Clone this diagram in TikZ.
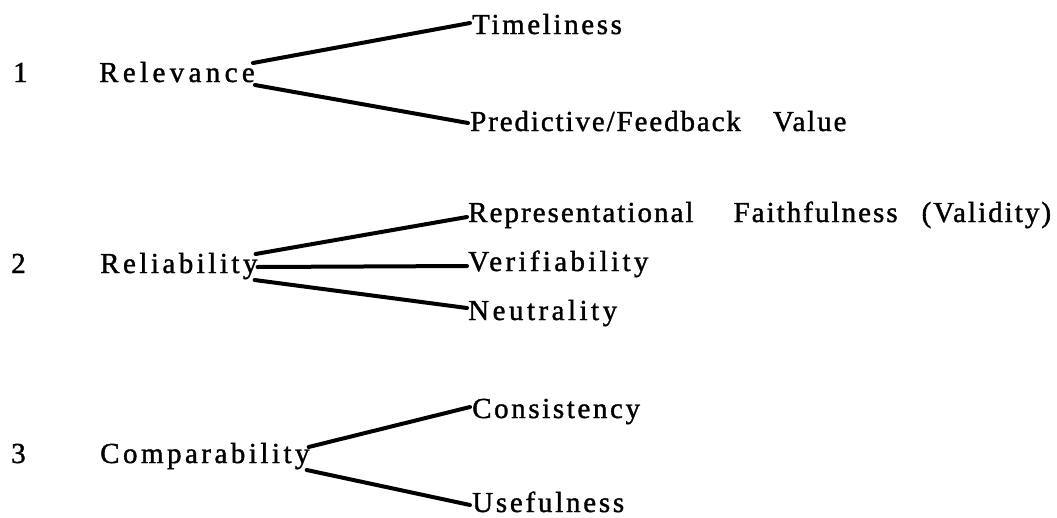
\documentclass[tikz,border=0pt]{standalone}
\usepackage{fontspec}
\setmainfont{Liberation Serif}
\begin{document}
\begin{tikzpicture}[x=1pt,y=1pt,
  lbl/.style={inner sep=0pt, anchor=base west,
    font=\fontsize{29}{34}\selectfont\addfontfeature{LetterSpace=#1,FakeBold=1.3}},
  lbl/.default=9,
  conn/.style={line width=4pt, line cap=round}]
\useasboundingbox (0,0) rectangle (1057,-517);
% row numbers
\node[lbl] (n1) at (13,-82) {1};
\node[lbl] (n2) at (11,-273) {2};
\node[lbl] (n3) at (11,-463) {3};
% main items
\node[lbl=15] (relev) at (99,-82) {Relevance};
\node[lbl=12] (reli) at (100,-273) {Reliability};
\node[lbl=12] (comp) at (100,-463) {Comparability};
% sub items
\node[lbl=9] (time) at (472,-34) {Timeliness};
\node[lbl=6.5] (pred) at (470,-131) {Predictive/Feedback\hspace{32pt}Value};
\node[lbl=7] (repr) at (468,-222) {Representational\hspace{40pt}Faithfulness\hspace{24pt}(Validity)};
\node[lbl=11.5] (verif) at (468,-271) {Verifiability};
\node[lbl=12] (neut) at (468,-320) {Neutrality};
\node[lbl=9] (cons) at (472,-418) {Consistency};
\node[lbl=9.5] (usef) at (472,-512) {Usefulness};
% connectors
\draw[conn] ([shift={(-2,19)}]relev.base east) -- ([shift={(-2,11)}]time.base west);
\draw[conn] ([shift={(0,-3)}]relev.base east) -- ([shift={(-2,8)}]pred.base west);
\draw[conn] ([shift={(-2,19)}]reli.base east) -- ([shift={(-1,5)}]repr.base west);
\draw[conn] ([shift={(0,6)}]reli.base east) -- ([shift={(-1,5)}]verif.base west);
\draw[conn] ([shift={(-3,-7)}]reli.base east) -- ([shift={(-1,12)}]neut.base west);
\draw[conn] ([shift={(-1,16)}]comp.base east) -- ([shift={(-2,11)}]cons.base west);
\draw[conn] ([shift={(-3,-7)}]comp.base east) -- ([shift={(-2,7)}]usef.base west);
\end{tikzpicture}
\end{document}
